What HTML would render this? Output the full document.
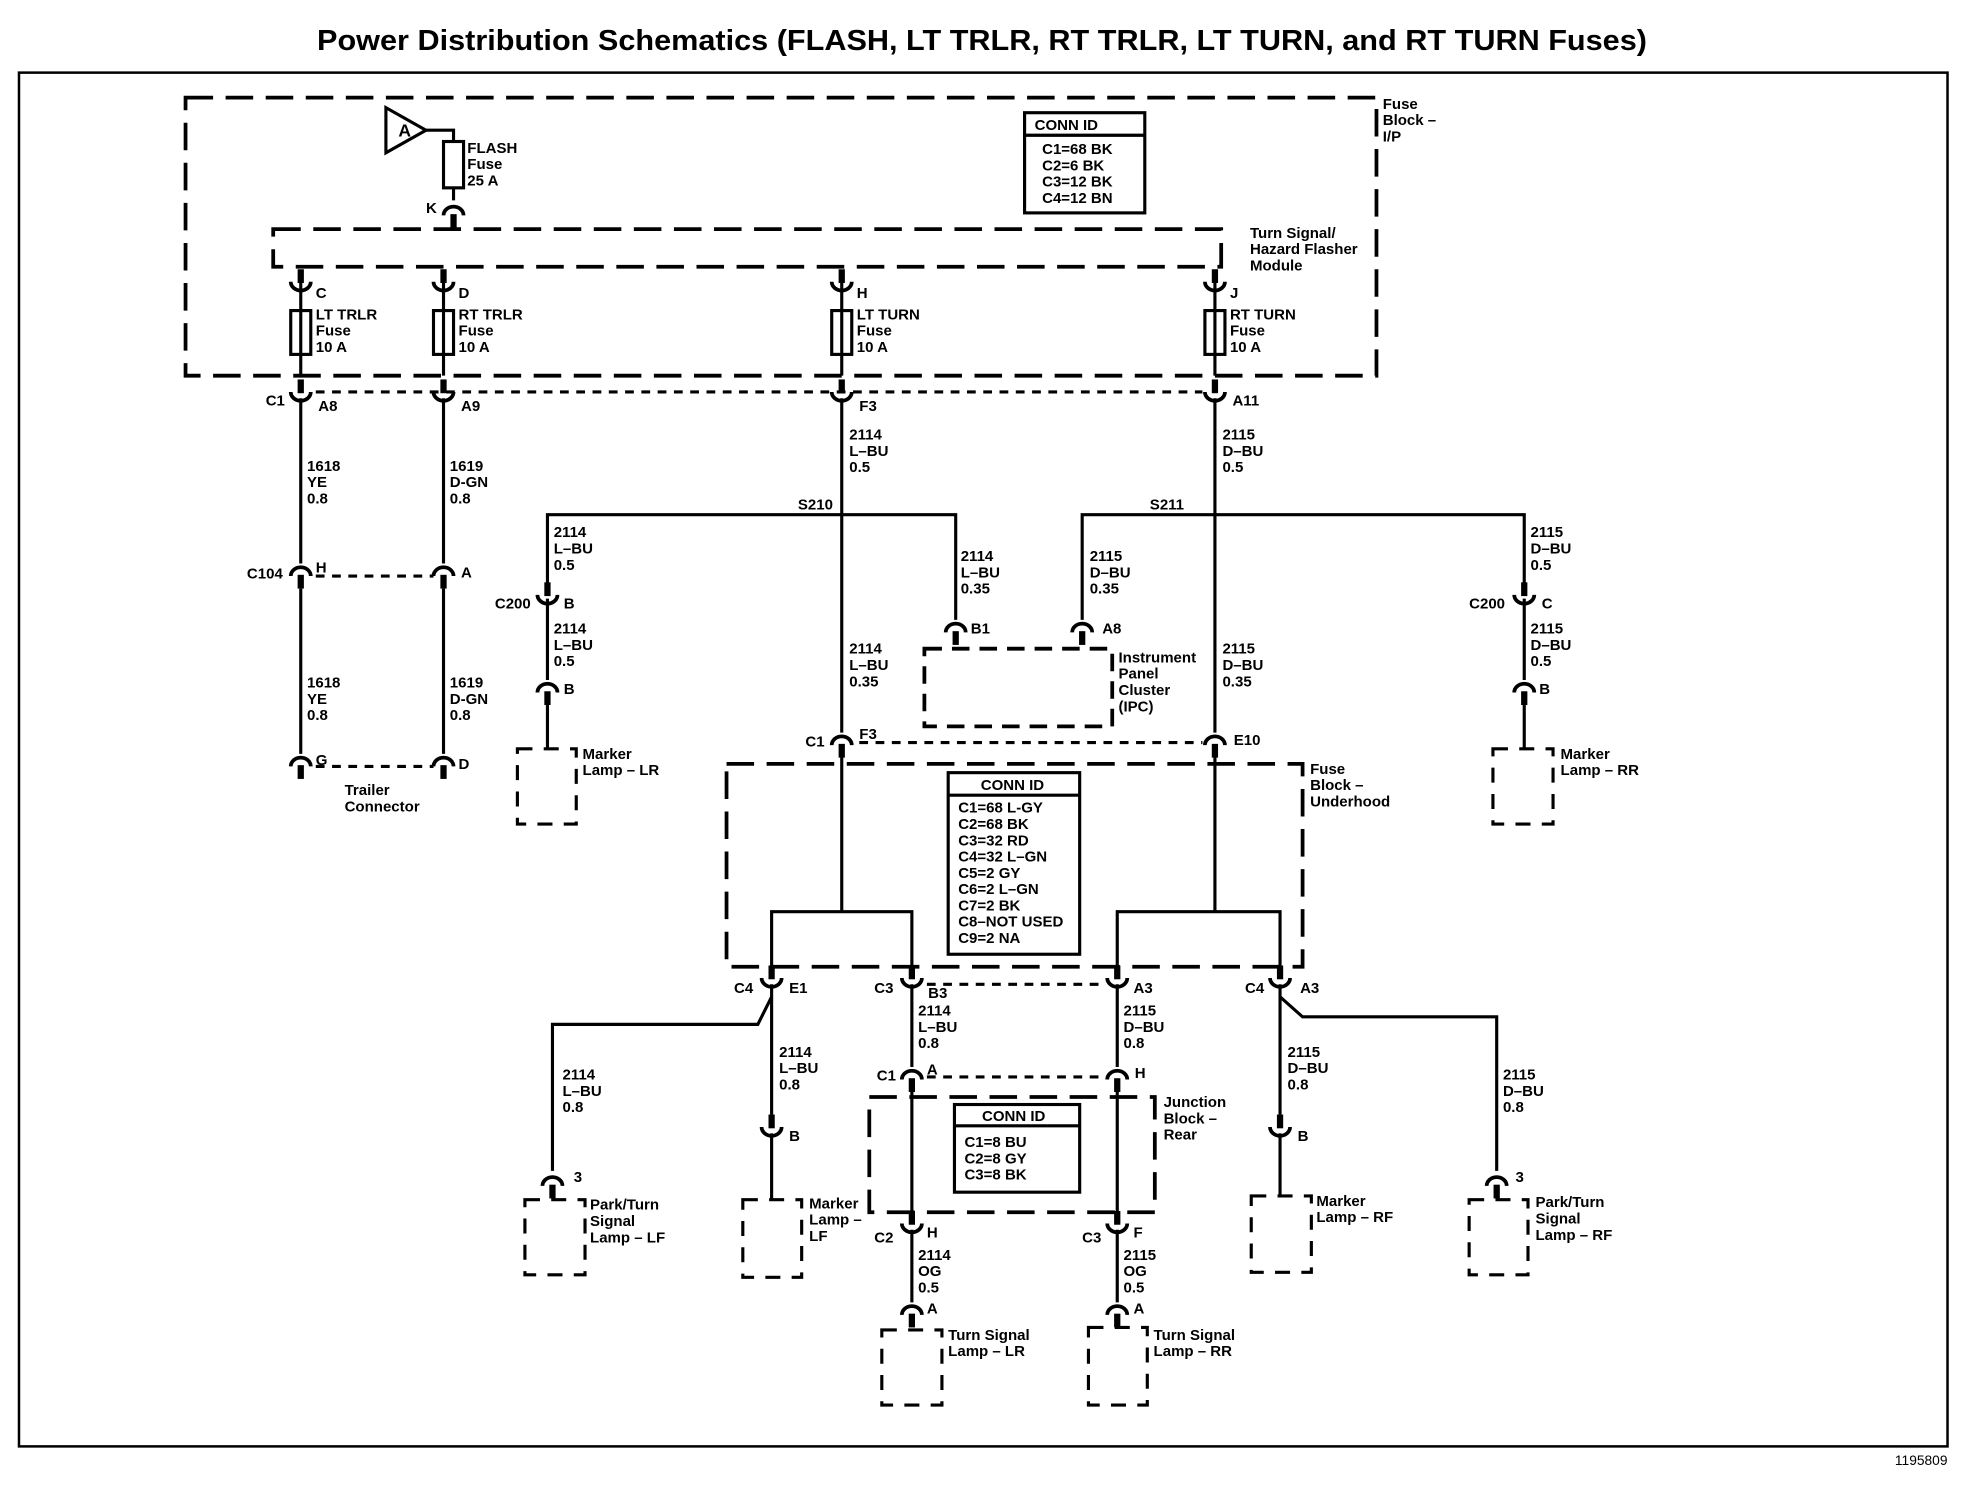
<!DOCTYPE html>
<html><head><meta charset="utf-8"><style>
html,body{margin:0;padding:0;background:#fff}
svg{display:block}
text{font-family:"Liberation Sans",Arial,sans-serif;font-size:12px;fill:#000}
</style></head><body>
<svg width="1964" height="1504" viewBox="0 0 1568 1201" xmlns="http://www.w3.org/2000/svg">
<defs>
<g id="cu"><line x1="0" y1="-15" x2="0" y2="-4" stroke="#000" stroke-width="5"/><path d="M-8,-5 A8,7 0 0 0 8,-5" fill="none" stroke="#000" stroke-width="3"/></g>
<g id="cn"><path d="M-8,5 A8,7 0 0 1 8,5" fill="none" stroke="#000" stroke-width="3"/><line x1="0" y1="4" x2="0" y2="15" stroke="#000" stroke-width="5"/></g>
</defs>
<rect width="1568" height="1201" fill="#fff"/>
<text x="253" y="40" textLength="1062" lengthAdjust="spacingAndGlyphs" style="font-size:23px;font-weight:bold">Power Distribution Schematics (FLASH, LT TRLR, RT TRLR, LT TURN, and RT TURN Fuses)</text>
<rect x="15" y="58" width="1540" height="1097" fill="none" stroke="#000" stroke-width="2"/>
<text x="1555" y="1170" text-anchor="end" style="font-size:11px">1195809</text>

<g fill="none" stroke="#000" stroke-width="3" stroke-dasharray="22,10">
<rect x="148" y="78" width="951" height="222"/>
<rect x="218" y="183" width="757" height="30"/>
<rect x="580" y="610" width="460" height="162"/>
<rect x="694" y="876" width="228" height="92"/>
<rect x="738" y="518" width="150" height="62" stroke-dasharray="14,8"/>
</g>
<g fill="none" stroke="#000" stroke-width="2.5" stroke-dasharray="12,9">
<rect x="413" y="598" width="47" height="60"/>
<rect x="1192" y="598" width="48" height="60"/>
<rect x="419" y="958" width="48" height="60"/>
<rect x="593" y="958" width="47" height="62"/>
<rect x="999" y="955" width="48" height="61"/>
<rect x="1173" y="958" width="47" height="60"/>
<rect x="704" y="1062" width="48" height="60"/>
<rect x="869" y="1060" width="47" height="62"/>
</g>
<g stroke="#000" stroke-width="2.5" stroke-dasharray="7,6">
<line x1="252" y1="313" x2="960" y2="313"/>
<line x1="252" y1="460" x2="346" y2="460"/>
<line x1="252" y1="612" x2="346" y2="612"/>
<line x1="686" y1="593" x2="960" y2="593"/>
<line x1="740" y1="786" x2="880" y2="786"/>
<line x1="740" y1="860" x2="880" y2="860"/>
</g>

<g fill="none" stroke="#000" stroke-width="2.5">
<rect x="818" y="90" width="96" height="80"/><line x1="818" y1="108" x2="914" y2="108"/>
<rect x="757" y="617" width="105" height="145"/><line x1="757" y1="635" x2="862" y2="635"/>
<rect x="762" y="882" width="100" height="70"/><line x1="762" y1="899" x2="862" y2="899"/>
<polygon points="308,86 308,122 340,104" stroke-width="2.5"/>
<rect x="354" y="113" width="16" height="37"/>
<rect x="232" y="248" width="16" height="35"/>
<rect x="346" y="248" width="16" height="35"/>
<rect x="664" y="248" width="16" height="35"/>
<rect x="962" y="248" width="16" height="35"/>
</g>

<g stroke="#000" stroke-width="2.5" fill="none">
<polyline points="340,104 362,104 362,113"/>
<line x1="362" y1="150" x2="362" y2="160"/>
<line x1="240" y1="225" x2="240" y2="300"/><line x1="354" y1="225" x2="354" y2="300"/>
<line x1="672" y1="225" x2="672" y2="300"/><line x1="970" y1="225" x2="970" y2="300"/>
<line x1="240" y1="318" x2="240" y2="450"/><line x1="240" y1="470" x2="240" y2="602"/>
<line x1="354" y1="318" x2="354" y2="450"/><line x1="354" y1="470" x2="354" y2="602"/>
<line x1="672" y1="318" x2="672" y2="585"/><line x1="970" y1="318" x2="970" y2="585"/>
<polyline points="437,473 437,411 763,411 763,495"/>
<line x1="437" y1="478" x2="437" y2="543"/><line x1="437" y1="563" x2="437" y2="598"/>
<polyline points="864,495 864,411 1217,411 1217,473"/>
<line x1="1217" y1="478" x2="1217" y2="543"/><line x1="1217" y1="563" x2="1217" y2="598"/>
<line x1="672" y1="600" x2="672" y2="728"/><line x1="970" y1="600" x2="970" y2="728"/>
<polyline points="616,772 616,728 728,728 728,772"/>
<polyline points="892,772 892,728 1022,728 1022,772"/>
<line x1="616" y1="786" x2="616" y2="890"/><line x1="616" y1="905" x2="616" y2="958"/>
<polyline points="616,796 605,818 441,818 441,935"/>
<line x1="728" y1="786" x2="728" y2="852"/><line x1="728" y1="862" x2="728" y2="968"/>
<line x1="892" y1="786" x2="892" y2="852"/><line x1="892" y1="862" x2="892" y2="968"/>
<line x1="728" y1="982" x2="728" y2="1040"/><line x1="892" y1="982" x2="892" y2="1040"/>
<line x1="1022" y1="786" x2="1022" y2="890"/><line x1="1022" y1="905" x2="1022" y2="955"/>
<polyline points="1022,796 1040,812 1195,812 1195,935"/>
</g>

<use href="#cn" x="362" y="167"/>
<use href="#cu" x="240" y="230"/><use href="#cu" x="354" y="230"/><use href="#cu" x="672" y="230"/><use href="#cu" x="970" y="230"/>
<use href="#cu" x="240" y="318"/><use href="#cu" x="354" y="318"/><use href="#cu" x="672" y="318"/><use href="#cu" x="970" y="318"/>
<use href="#cn" x="240" y="455"/><use href="#cn" x="354" y="455"/>
<use href="#cn" x="240" y="607"/><use href="#cn" x="354" y="607"/>
<use href="#cu" x="437" y="480"/><use href="#cn" x="437" y="548"/>
<use href="#cu" x="1217" y="480"/><use href="#cn" x="1217" y="548"/>
<use href="#cn" x="763" y="500"/><use href="#cn" x="864" y="500"/>
<use href="#cn" x="672" y="590"/><use href="#cn" x="970" y="590"/>
<use href="#cu" x="616" y="786"/><use href="#cu" x="728" y="786"/><use href="#cu" x="892" y="786"/><use href="#cu" x="1022" y="786"/>
<use href="#cn" x="728" y="857"/><use href="#cn" x="892" y="857"/>
<use href="#cu" x="728" y="982"/><use href="#cu" x="892" y="982"/>
<use href="#cn" x="728" y="1045"/><use href="#cn" x="892" y="1045"/>
<use href="#cu" x="616" y="905"/><use href="#cu" x="1022" y="905"/>
<use href="#cn" x="441" y="942"/><use href="#cn" x="1195" y="942"/>

<g style="font-weight:bold;font-size:12px">
<text x="318" y="109" style="font-size:14px">A</text>
<text x="1104" y="87">Fuse</text><text x="1104" y="100">Block –</text><text x="1104" y="113">I/P</text>
<text x="373" y="122">FLASH</text><text x="373" y="135">Fuse</text><text x="373" y="148">25 A</text>
<text x="340" y="170">K</text>
<text x="998" y="190">Turn Signal/</text><text x="998" y="203">Hazard Flasher</text><text x="998" y="216">Module</text>
<text x="252" y="238">C</text><text x="366" y="238">D</text><text x="684" y="238">H</text><text x="982" y="238">J</text>
<text x="252" y="255">LT TRLR</text><text x="252" y="268">Fuse</text><text x="252" y="281">10 A</text>
<text x="366" y="255">RT TRLR</text><text x="366" y="268">Fuse</text><text x="366" y="281">10 A</text>
<text x="684" y="255">LT TURN</text><text x="684" y="268">Fuse</text><text x="684" y="281">10 A</text>
<text x="982" y="255">RT TURN</text><text x="982" y="268">Fuse</text><text x="982" y="281">10 A</text>
<text x="826" y="104">CONN ID</text>
<text x="832" y="123">C1=68 BK</text><text x="832" y="136">C2=6 BK</text><text x="832" y="149">C3=12 BK</text><text x="832" y="162">C4=12 BN</text>
<text x="212" y="324">C1</text><text x="254" y="328">A8</text><text x="368" y="328">A9</text><text x="686" y="328">F3</text><text x="984" y="324">A11</text>
<text x="245" y="376">1618</text><text x="245" y="389">YE</text><text x="245" y="402">0.8</text>
<text x="359" y="376">1619</text><text x="359" y="389">D-GN</text><text x="359" y="402">0.8</text>
<text x="197" y="462">C104</text><text x="252" y="457">H</text><text x="368" y="461">A</text>
<text x="245" y="549">1618</text><text x="245" y="562">YE</text><text x="245" y="575">0.8</text>
<text x="359" y="549">1619</text><text x="359" y="562">D-GN</text><text x="359" y="575">0.8</text>
<text x="252" y="611">G</text><text x="366" y="614">D</text>
<text x="275" y="635">Trailer</text><text x="275" y="648">Connector</text>
<text x="678" y="351">2114</text><text x="678" y="364">L–BU</text><text x="678" y="377">0.5</text>
<text x="976" y="351">2115</text><text x="976" y="364">D–BU</text><text x="976" y="377">0.5</text>
<text x="637" y="407">S210</text><text x="918" y="407">S211</text>
<text x="442" y="429">2114</text><text x="442" y="442">L–BU</text><text x="442" y="455">0.5</text>
<text x="395" y="486">C200</text><text x="450" y="486">B</text>
<text x="442" y="506">2114</text><text x="442" y="519">L–BU</text><text x="442" y="532">0.5</text>
<text x="450" y="554">B</text>
<text x="465" y="606">Marker</text><text x="465" y="619">Lamp – LR</text>
<text x="767" y="448">2114</text><text x="767" y="461">L–BU</text><text x="767" y="474">0.35</text>
<text x="775" y="506">B1</text><text x="880" y="506">A8</text>
<text x="870" y="448">2115</text><text x="870" y="461">D–BU</text><text x="870" y="474">0.35</text>
<text x="893" y="529">Instrument</text><text x="893" y="542">Panel</text><text x="893" y="555">Cluster</text><text x="893" y="568">(IPC)</text>
<text x="678" y="522">2114</text><text x="678" y="535">L–BU</text><text x="678" y="548">0.35</text>
<text x="976" y="522">2115</text><text x="976" y="535">D–BU</text><text x="976" y="548">0.35</text>
<text x="1222" y="429">2115</text><text x="1222" y="442">D–BU</text><text x="1222" y="455">0.5</text>
<text x="1173" y="486">C200</text><text x="1231" y="486">C</text>
<text x="1222" y="506">2115</text><text x="1222" y="519">D–BU</text><text x="1222" y="532">0.5</text>
<text x="1229" y="554">B</text>
<text x="1246" y="606">Marker</text><text x="1246" y="619">Lamp – RR</text>
<text x="643" y="596">C1</text><text x="686" y="590">F3</text><text x="985" y="595">E10</text>
<text x="1046" y="618">Fuse</text><text x="1046" y="631">Block –</text><text x="1046" y="644">Underhood</text>
<text x="783" y="631">CONN ID</text>
<text x="765" y="649">C1=68 L-GY</text><text x="765" y="662">C2=68 BK</text><text x="765" y="675">C3=32 RD</text><text x="765" y="688">C4=32 L–GN</text><text x="765" y="701">C5=2 GY</text><text x="765" y="714">C6=2 L–GN</text><text x="765" y="727">C7=2 BK</text><text x="765" y="740">C8–NOT USED</text><text x="765" y="753">C9=2 NA</text>
<text x="586" y="793">C4</text><text x="630" y="793">E1</text><text x="698" y="793">C3</text><text x="741" y="797">B3</text>
<text x="905" y="793">A3</text><text x="994" y="793">C4</text><text x="1038" y="793">A3</text>
<text x="733" y="811">2114</text><text x="733" y="824">L–BU</text><text x="733" y="837">0.8</text>
<text x="897" y="811">2115</text><text x="897" y="824">D–BU</text><text x="897" y="837">0.8</text>
<text x="449" y="862">2114</text><text x="449" y="875">L–BU</text><text x="449" y="888">0.8</text>
<text x="622" y="844">2114</text><text x="622" y="857">L–BU</text><text x="622" y="870">0.8</text>
<text x="1028" y="844">2115</text><text x="1028" y="857">D–BU</text><text x="1028" y="870">0.8</text>
<text x="1200" y="862">2115</text><text x="1200" y="875">D–BU</text><text x="1200" y="888">0.8</text>
<text x="700" y="863">C1</text><text x="740" y="858">A</text><text x="906" y="861">H</text>
<text x="929" y="884">Junction</text><text x="929" y="897">Block –</text><text x="929" y="910">Rear</text>
<text x="784" y="895">CONN ID</text>
<text x="770" y="916">C1=8 BU</text><text x="770" y="929">C2=8 GY</text><text x="770" y="942">C3=8 BK</text>
<text x="630" y="911">B</text><text x="1036" y="911">B</text>
<text x="458" y="944">3</text><text x="1210" y="944">3</text>
<text x="471" y="966">Park/Turn</text><text x="471" y="979">Signal</text><text x="471" y="992">Lamp – LF</text>
<text x="646" y="965">Marker</text><text x="646" y="978">Lamp –</text><text x="646" y="991">LF</text>
<text x="1051" y="963">Marker</text><text x="1051" y="976">Lamp – RF</text>
<text x="1226" y="964">Park/Turn</text><text x="1226" y="977">Signal</text><text x="1226" y="990">Lamp – RF</text>
<text x="698" y="992">C2</text><text x="740" y="988">H</text><text x="864" y="992">C3</text><text x="905" y="988">F</text>
<text x="733" y="1006">2114</text><text x="733" y="1019">OG</text><text x="733" y="1032">0.5</text>
<text x="897" y="1006">2115</text><text x="897" y="1019">OG</text><text x="897" y="1032">0.5</text>
<text x="740" y="1049">A</text><text x="905" y="1049">A</text>
<text x="757" y="1070">Turn Signal</text><text x="757" y="1083">Lamp – LR</text>
<text x="921" y="1070">Turn Signal</text><text x="921" y="1083">Lamp – RR</text>
</g>
</svg>
</body></html>
